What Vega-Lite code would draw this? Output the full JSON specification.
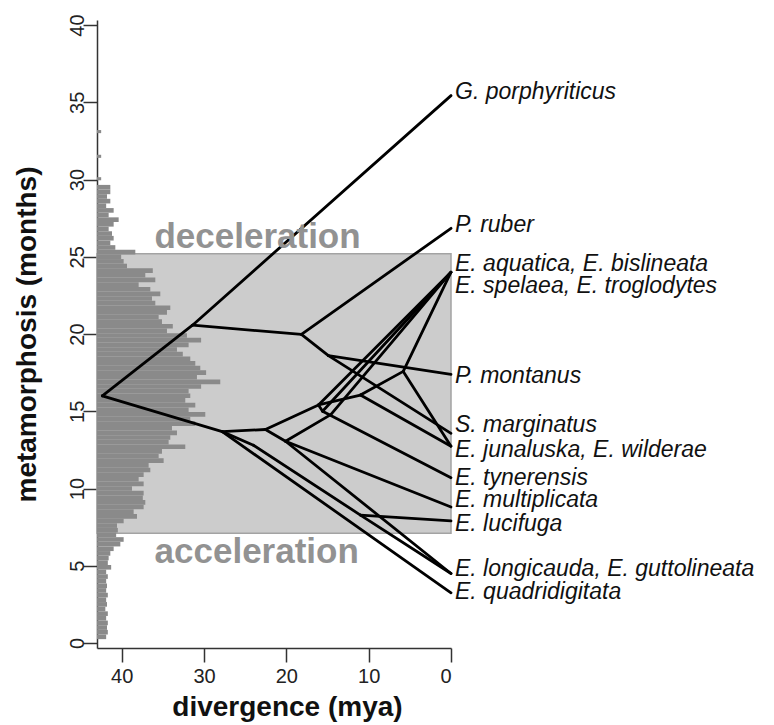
{
  "$schema": "https://vega.github.io/schema/vega-lite/v6.json",
  "width": 354,
  "height": 628,
  "autosize": "none",
  "padding": {"left": 97, "top": 20, "right": 323, "bottom": 77},
  "background": "white",
  "config": {
    "view": {"stroke": null},
    "font": "Liberation Sans",
    "axis": {
      "grid": false,
      "domainColor": "#333333",
      "domainWidth": 1.5,
      "tickColor": "#333333",
      "tickWidth": 1.5,
      "tickSize": 14,
      "labelColor": "#222222",
      "labelFontSize": 20,
      "labelFont": "Liberation Sans",
      "titleFont": "Liberation Sans",
      "titleFontSize": 28,
      "titleFontWeight": "bold",
      "titleColor": "#111111"
    }
  },
  "datasets": {
    "zones": [{"top": 25.2, "bottom": 7.1, "from": 43, "to": 0}],
    "hist": [
      {"lo": 0.25, "hi": 0.55, "n": 11}, {"lo": 0.55, "hi": 0.85, "n": 13}, {"lo": 0.85, "hi": 1.15, "n": 12},
      {"lo": 1.15, "hi": 1.45, "n": 13}, {"lo": 1.45, "hi": 1.75, "n": 11}, {"lo": 1.75, "hi": 2.05, "n": 13},
      {"lo": 2.05, "hi": 2.35, "n": 10}, {"lo": 2.35, "hi": 2.65, "n": 12}, {"lo": 2.65, "hi": 2.95, "n": 11},
      {"lo": 2.95, "hi": 3.25, "n": 13}, {"lo": 3.25, "hi": 3.55, "n": 11}, {"lo": 3.55, "hi": 3.85, "n": 12},
      {"lo": 3.85, "hi": 4.15, "n": 11}, {"lo": 4.15, "hi": 4.45, "n": 13}, {"lo": 4.45, "hi": 4.75, "n": 11},
      {"lo": 4.75, "hi": 5.05, "n": 17}, {"lo": 5.05, "hi": 5.35, "n": 13}, {"lo": 5.35, "hi": 5.65, "n": 14},
      {"lo": 5.65, "hi": 5.95, "n": 16}, {"lo": 5.95, "hi": 6.25, "n": 20}, {"lo": 6.25, "hi": 6.55, "n": 28},
      {"lo": 6.55, "hi": 6.85, "n": 32}, {"lo": 6.85, "hi": 7.15, "n": 23}, {"lo": 7.15, "hi": 7.45, "n": 25},
      {"lo": 7.45, "hi": 7.75, "n": 24}, {"lo": 7.75, "hi": 8.05, "n": 32}, {"lo": 8.05, "hi": 8.35, "n": 48},
      {"lo": 8.35, "hi": 8.65, "n": 44}, {"lo": 8.65, "hi": 8.95, "n": 56}, {"lo": 8.95, "hi": 9.25, "n": 58},
      {"lo": 9.25, "hi": 9.55, "n": 55}, {"lo": 9.55, "hi": 9.85, "n": 56}, {"lo": 9.85, "hi": 10.15, "n": 42},
      {"lo": 10.15, "hi": 10.45, "n": 56}, {"lo": 10.45, "hi": 10.75, "n": 50}, {"lo": 10.75, "hi": 11.05, "n": 56},
      {"lo": 11.05, "hi": 11.35, "n": 64}, {"lo": 11.35, "hi": 11.65, "n": 62}, {"lo": 11.65, "hi": 11.95, "n": 80},
      {"lo": 11.95, "hi": 12.25, "n": 74}, {"lo": 12.25, "hi": 12.55, "n": 78}, {"lo": 12.55, "hi": 12.85, "n": 106},
      {"lo": 12.85, "hi": 13.15, "n": 86}, {"lo": 13.15, "hi": 13.45, "n": 88}, {"lo": 13.45, "hi": 13.75, "n": 96},
      {"lo": 13.75, "hi": 14.05, "n": 90}, {"lo": 14.05, "hi": 14.35, "n": 118}, {"lo": 14.35, "hi": 14.65, "n": 112},
      {"lo": 14.65, "hi": 14.95, "n": 130}, {"lo": 14.95, "hi": 15.25, "n": 110}, {"lo": 15.25, "hi": 15.55, "n": 118},
      {"lo": 15.55, "hi": 15.85, "n": 106}, {"lo": 15.85, "hi": 16.15, "n": 112}, {"lo": 16.15, "hi": 16.45, "n": 110},
      {"lo": 16.45, "hi": 16.75, "n": 125}, {"lo": 16.75, "hi": 17.05, "n": 148}, {"lo": 17.05, "hi": 17.35, "n": 120},
      {"lo": 17.35, "hi": 17.65, "n": 131}, {"lo": 17.65, "hi": 17.95, "n": 124}, {"lo": 17.95, "hi": 18.25, "n": 118},
      {"lo": 18.25, "hi": 18.55, "n": 112}, {"lo": 18.55, "hi": 18.85, "n": 103}, {"lo": 18.85, "hi": 19.15, "n": 96},
      {"lo": 19.15, "hi": 19.45, "n": 110}, {"lo": 19.45, "hi": 19.75, "n": 125}, {"lo": 19.75, "hi": 20.05, "n": 108},
      {"lo": 20.05, "hi": 20.35, "n": 84}, {"lo": 20.35, "hi": 20.65, "n": 91}, {"lo": 20.65, "hi": 20.95, "n": 78},
      {"lo": 20.95, "hi": 21.25, "n": 74}, {"lo": 21.25, "hi": 21.55, "n": 84}, {"lo": 21.55, "hi": 21.85, "n": 88},
      {"lo": 21.85, "hi": 22.15, "n": 70}, {"lo": 22.15, "hi": 22.45, "n": 66}, {"lo": 22.45, "hi": 22.75, "n": 76},
      {"lo": 22.75, "hi": 23.05, "n": 64}, {"lo": 23.05, "hi": 23.35, "n": 50}, {"lo": 23.35, "hi": 23.65, "n": 70},
      {"lo": 23.65, "hi": 23.95, "n": 58}, {"lo": 23.95, "hi": 24.25, "n": 67}, {"lo": 24.25, "hi": 24.55, "n": 36},
      {"lo": 24.55, "hi": 24.85, "n": 32}, {"lo": 24.85, "hi": 25.15, "n": 29}, {"lo": 25.15, "hi": 25.45, "n": 46},
      {"lo": 25.45, "hi": 25.75, "n": 22}, {"lo": 25.75, "hi": 26.05, "n": 16}, {"lo": 26.05, "hi": 26.35, "n": 20},
      {"lo": 26.35, "hi": 26.65, "n": 18}, {"lo": 26.65, "hi": 26.95, "n": 14}, {"lo": 26.95, "hi": 27.25, "n": 20},
      {"lo": 27.25, "hi": 27.55, "n": 26}, {"lo": 27.55, "hi": 27.85, "n": 14}, {"lo": 27.85, "hi": 28.15, "n": 20},
      {"lo": 28.15, "hi": 28.45, "n": 11}, {"lo": 28.45, "hi": 28.75, "n": 16}, {"lo": 28.75, "hi": 29.05, "n": 12},
      {"lo": 29.05, "hi": 29.35, "n": 16}, {"lo": 29.35, "hi": 29.65, "n": 16},
      {"lo": 29.95, "hi": 30.15, "n": 5}, {"lo": 31.4, "hi": 31.6, "n": 5}, {"lo": 33.0, "hi": 33.2, "n": 5}
    ],
    "edges": [
      {"x1": 42.35, "y1": 16.0, "x2": 31.4, "y2": 20.57},
      {"x1": 31.4, "y1": 20.57, "x2": 0, "y2": 35.43},
      {"x1": 31.4, "y1": 20.57, "x2": 18.17, "y2": 19.97},
      {"x1": 18.17, "y1": 19.97, "x2": 0, "y2": 26.84},
      {"x1": 18.17, "y1": 19.97, "x2": 14.89, "y2": 18.6},
      {"x1": 14.89, "y1": 18.6, "x2": 0, "y2": 17.39},
      {"x1": 14.89, "y1": 18.6, "x2": 0, "y2": 13.57},
      {"x1": 42.35, "y1": 16.0, "x2": 27.79, "y2": 13.68},
      {"x1": 27.79, "y1": 13.68, "x2": 22.54, "y2": 13.82},
      {"x1": 22.54, "y1": 13.82, "x2": 16.1, "y2": 15.41},
      {"x1": 16.1, "y1": 15.41, "x2": 0, "y2": 24.0},
      {"x1": 15.6, "y1": 15.0, "x2": 0, "y2": 24.0},
      {"x1": 16.1, "y1": 15.41, "x2": 15.6, "y2": 15.0},
      {"x1": 22.54, "y1": 13.82, "x2": 20.1, "y2": 13.06},
      {"x1": 20.1, "y1": 13.06, "x2": 14.6, "y2": 14.78},
      {"x1": 14.6, "y1": 14.78, "x2": 0, "y2": 24.0},
      {"x1": 16.1, "y1": 15.41, "x2": 11.0, "y2": 16.05},
      {"x1": 11.0, "y1": 16.05, "x2": 5.8, "y2": 17.58},
      {"x1": 5.8, "y1": 17.58, "x2": 0, "y2": 24.0},
      {"x1": 5.8, "y1": 17.58, "x2": 0, "y2": 12.74},
      {"x1": 11.0, "y1": 16.05, "x2": 0, "y2": 12.74},
      {"x1": 15.6, "y1": 15.0, "x2": 0, "y2": 10.7},
      {"x1": 20.1, "y1": 13.06, "x2": 0, "y2": 8.8},
      {"x1": 27.79, "y1": 13.68, "x2": 24.0, "y2": 12.8},
      {"x1": 24.0, "y1": 12.8, "x2": 11.0, "y2": 8.28},
      {"x1": 11.0, "y1": 8.28, "x2": 0, "y2": 7.9},
      {"x1": 11.0, "y1": 8.28, "x2": 0, "y2": 4.5},
      {"x1": 20.1, "y1": 13.06, "x2": 0, "y2": 4.5},
      {"x1": 27.79, "y1": 13.68, "x2": 0, "y2": 3.25}
    ],
    "species": [
      {"name": "G. porphyriticus", "t": 0, "y": 35.67},
      {"name": "P. ruber", "t": 0, "y": 27.07},
      {"name": "E. aquatica, E. bislineata", "t": 0, "y": 24.5},
      {"name": "E. spelaea, E. troglodytes", "t": 0, "y": 23.1},
      {"name": "P. montanus", "t": 0, "y": 17.28},
      {"name": "S. marginatus", "t": 0, "y": 14.1},
      {"name": "E. junaluska, E. wilderae", "t": 0, "y": 12.5},
      {"name": "E. tynerensis", "t": 0, "y": 10.7},
      {"name": "E. multiplicata", "t": 0, "y": 9.24},
      {"name": "E. lucifuga", "t": 0, "y": 7.73},
      {"name": "E. longicauda, E. guttolineata", "t": 0, "y": 4.78},
      {"name": "E. quadridigitata", "t": 0, "y": 3.27}
    ],
    "zonelabels": [
      {"label": "deceleration", "x": 23.5, "y": 25.54},
      {"label": "acceleration", "x": 23.6, "y": 5.16}
    ]
  },
  "layer": [
    {
      "data": {"name": "zones"},
      "mark": {"type": "rect", "fill": "#cccccc", "stroke": "#a3a3a3", "strokeWidth": 1.5},
      "encoding": {
        "x": {"field": "from", "type": "quantitative", "scale": {"domain": [43, 0], "nice": false}, "axis": null},
        "x2": {"field": "to"},
        "y": {"field": "bottom", "type": "quantitative", "scale": {"domain": [0, 40], "nice": false},
              "title": "metamorphosis (months)",
              "axis": {"values": [0, 5, 10, 15, 20, 25, 30, 35, 40], "labelAngle": -90, "labelAlign": "center", "labelBaseline": "alphabetic", "labelPadding": 0, "titleAngle": -90, "titleBaseline": "alphabetic", "titleX": -62, "titleAlign": "center"}},
        "y2": {"field": "top"}
      }
    },
    {
      "data": {"name": "hist"},
      "mark": {"type": "bar", "fill": "#8a8a8a", "orient": "horizontal"},
      "encoding": {
        "x": {"field": "n", "type": "quantitative", "scale": {"domain": [0, 425], "nice": false}, "axis": null},
        "y": {"field": "lo", "type": "quantitative", "title": "metamorphosis (months)"},
        "y2": {"field": "hi"}
      }
    },
    {
      "layer": [
        {
          "data": {"name": "edges"},
          "mark": {"type": "rule", "color": "#000000", "strokeWidth": 2.8, "strokeCap": "round"},
          "encoding": {
            "x": {"field": "x1", "type": "quantitative", "scale": {"domain": [43, 0], "nice": false},
                  "title": "divergence (mya)",
                  "axis": {"values": [0, 10, 20, 30, 40], "labelPadding": 4, "titleX": 190, "titleY": 67, "titleBaseline": "alphabetic", "titleAlign": "center"}},
            "x2": {"field": "x2"},
            "y": {"field": "y1", "type": "quantitative", "title": "metamorphosis (months)"},
            "y2": {"field": "y2"}
          }
        },
        {
          "data": {"name": "species"},
          "mark": {"type": "text", "align": "left", "baseline": "middle", "dx": 4, "fontSize": 23, "fontStyle": "italic", "font": "Liberation Sans", "color": "#111111"},
          "encoding": {
            "x": {"field": "t", "type": "quantitative"},
            "y": {"field": "y", "type": "quantitative", "title": "metamorphosis (months)"},
            "text": {"field": "name"}
          }
        },
        {
          "data": {"name": "zonelabels"},
          "mark": {"type": "text", "align": "center", "baseline": "alphabetic", "fontSize": 35, "fontWeight": "bold", "font": "Liberation Sans", "color": "#929292"},
          "encoding": {
            "x": {"field": "x", "type": "quantitative"},
            "y": {"field": "y", "type": "quantitative", "title": "metamorphosis (months)"},
            "text": {"field": "label"}
          }
        }
      ]
    }
  ],
  "resolve": {"scale": {"x": "independent"}}
}
